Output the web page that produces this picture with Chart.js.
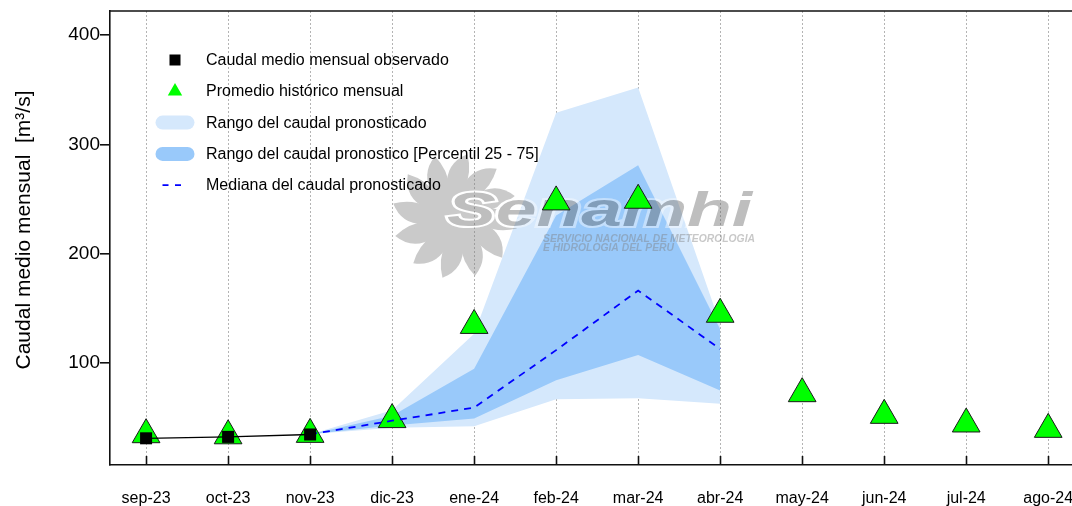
<!DOCTYPE html>
<html>
<head>
<meta charset="utf-8">
<script src="https://cdn.jsdelivr.net/npm/chart.js@4"></script>
<style>
  body { margin: 0; background: #fff; }
  #wrap { width: 1072px; height: 506px; }
</style>
</head>
<body>
<div id="wrap"><canvas id="caudalChart" width="1072" height="506"></canvas></div>
<script>
const months = ['sep-23', 'oct-23', 'nov-23', 'dic-23', 'ene-24', 'feb-24',
                'mar-24', 'abr-24', 'may-24', 'jun-24', 'jul-24', 'ago-24'];

// caudal observado (sep-23 .. nov-23)
const obsMonths = ['sep-23', 'oct-23', 'nov-23'];
const observado = [31.4, 32.7, 34.9];

// promedio historico, un valor por mes
const promedioHistorico = [34.7, 33.7, 35, 48.5, 134.6, 247.5, 249, 144.8, 72.2, 52.4, 44.5, 39.6];

// pronostico (nov-23 .. abr-24)
const pronoMonths = ['nov-23', 'dic-23', 'ene-24', 'feb-24', 'mar-24', 'abr-24'];
const rangoMax = [35, 57, 127, 329, 352, 136];
const rangoMin = [35, 41, 42.5, 67, 68, 63];
const p75 = [35, 52, 95, 235, 281, 131];
const p25 = [35, 43, 49.5, 84.4, 107.5, 75];
const mediana = [35, 47.5, 59.5, 112, 166.5, 113];

const yTicks = [100, 200, 300, 400];

const FONT = "'Liberation Sans', Arial, sans-serif";
Chart.defaults.font.family = FONT;

const pts = (labels, vals) => vals.map((v, i) => ({ x: months.indexOf(labels[i]), y: v }));

const LIGHT = '#d5e8fc';
const DARK = '#99c9fa';

function drawWatermark(chart) {
  const { ctx, chartArea: a } = chart;
  const off = document.createElement('canvas');
  off.width = chart.width;
  off.height = chart.height;
  const o = off.getContext('2d');

  // sol
  const cx = a.left + 345, cy = a.top + 205;
  o.fillStyle = 'rgb(128,128,128)';
  for (let k = 0; k < 12; k++) {
    const t = k * Math.PI / 6;
    const p = (r, ang) => [cx + r * Math.cos(ang), cy + r * Math.sin(ang)];
    const [x1, y1] = p(30, t - 0.27);
    const [x2, y2] = p(30, t + 0.32);
    const [xt, yt] = p(63, t + 0.2);
    const [c1x, c1y] = p(54, t - 0.18);
    const [c2x, c2y] = p(46, t + 0.38);
    o.beginPath();
    o.moveTo(x1, y1);
    o.quadraticCurveTo(c1x, c1y, xt, yt);
    o.quadraticCurveTo(c2x, c2y, x2, y2);
    o.closePath();
    o.fill();
  }
  o.beginPath();
  o.arc(cx, cy, 38, 0, Math.PI * 2);
  o.fill();

  // texto Senamhi
  o.font = 'italic bold 48px ' + FONT;
  const w = o.measureText('Senamhi').width;
  const sx = 305 / w;
  o.save();
  o.translate(a.left + 337, a.top + 215);
  o.scale(sx, 1);
  o.lineWidth = 4;
  o.strokeStyle = '#fff';
  o.strokeText('Senamhi', 0, 0);
  o.fillStyle = 'rgb(100,100,100)';
  o.fillText('Senamhi', 0, 0);
  o.restore();

  o.font = 'italic bold 11px ' + FONT;
  const l1 = 'SERVICIO NACIONAL DE METEOROLOGIA';
  const l2 = 'E HIDROLOGIA DEL PERU';
  const s2 = 212 / o.measureText(l1).width;
  o.fillStyle = 'rgb(125,125,125)';
  [[l1, 231], [l2, 240]].forEach(([txt, dy]) => {
    o.save();
    o.translate(a.left + 433, a.top + dy);
    o.scale(s2, 1);
    o.fillText(txt, 0, 0);
    o.restore();
  });

  ctx.save();
  ctx.globalAlpha = 0.42;
  ctx.drawImage(off, 0, 0);
  ctx.restore();
}

const decor = {
  id: 'decor',
  afterDatasetDraw(chart, args) {
    if (args.index === 5) drawWatermark(chart);
  },
  afterDraw(chart) {
    const { ctx, chartArea: a, scales: { x } } = chart;
    ctx.save();
    // marco superior
    ctx.strokeStyle = '#111';
    ctx.lineWidth = 1.6;
    ctx.beginPath();
    ctx.moveTo(a.left, a.top);
    ctx.lineTo(a.right, a.top);
    ctx.stroke();
    // ticks del eje x hacia adentro
    x.ticks.forEach(t => {
      const px = Math.round(x.getPixelForValue(t.value)) + 0.5;
      ctx.beginPath();
      ctx.moveTo(px, a.bottom);
      ctx.lineTo(px, a.bottom - 9);
      ctx.stroke();
    });

    // titulo eje y
    ctx.save();
    ctx.translate(24, 230);
    ctx.rotate(-Math.PI / 2);
    ctx.font = '21px ' + FONT;
    ctx.fillStyle = '#000';
    ctx.textAlign = 'center';
    ctx.textBaseline = 'middle';
    ctx.fillText('Caudal medio mensual  [m\u00B3/s]', 0, 0);
    ctx.restore();

    // leyenda
    const ds = chart.data.datasets;
    const items = [
      { text: ds[0].label, kind: 'rect', color: ds[0].backgroundColor },
      { text: ds[1].label, kind: 'tri', color: ds[1].backgroundColor },
      { text: ds[2].label, kind: 'band', color: ds[2].backgroundColor },
      { text: ds[4].label, kind: 'band', color: ds[4].backgroundColor },
      { text: ds[6].label, kind: 'dash', color: ds[6].borderColor }
    ];
    const mx = a.left + 65, tx = a.left + 96;
    ctx.font = '16px ' + FONT;
    ctx.textBaseline = 'middle';
    ctx.textAlign = 'left';
    items.forEach((it, i) => {
      const y = a.top + 49 + i * 31.3;
      ctx.fillStyle = it.color;
      if (it.kind === 'rect') {
        ctx.fillRect(mx - 5.5, y - 5.5, 11, 11);
      } else if (it.kind === 'tri') {
        const r = 8.3;
        ctx.beginPath();
        ctx.moveTo(mx, y - r);
        ctx.lineTo(mx + r * 0.866, y + r / 2);
        ctx.lineTo(mx - r * 0.866, y + r / 2);
        ctx.closePath();
        ctx.fill();
      } else if (it.kind === 'band') {
        ctx.beginPath();
        ctx.roundRect(mx - 19.5, y - 7, 39, 14, 7);
        ctx.fill();
      } else {
        ctx.strokeStyle = it.color;
        ctx.lineWidth = 1.8;
        ctx.setLineDash([6, 6.5]);
        ctx.beginPath();
        ctx.moveTo(mx - 12.5, y);
        ctx.lineTo(mx + 7, y);
        ctx.stroke();
        ctx.setLineDash([]);
      }
      ctx.fillStyle = '#000';
      ctx.fillText(it.text, tx, y + 0.5);
    });
    ctx.restore();
  }
};

new Chart(document.getElementById('caudalChart'), {
  type: 'line',
  data: {
    datasets: [
      {
        label: 'Caudal medio mensual observado',
        data: pts(obsMonths, observado),
        borderColor: '#000',
        borderWidth: 1.3,
        backgroundColor: '#000',
        pointStyle: 'rect',
        pointRadius: 8.5,
        pointBorderWidth: 0,
        order: 0
      },
      {
        label: 'Promedio histórico mensual',
        data: pts(months, promedioHistorico),
        showLine: false,
        backgroundColor: '#00ff00',
        borderColor: '#1a1a1a',
        pointStyle: 'triangle',
        pointRadius: 16,
        pointBorderWidth: 1,
        order: 2
      },
      {
        label: 'Rango del caudal pronosticado',
        data: pts(pronoMonths, rangoMax),
        backgroundColor: LIGHT,
        borderColor: 'rgba(0,0,0,0)',
        borderWidth: 0,
        pointRadius: 0,
        fill: '+1',
        order: 6
      },
      {
        label: 'min',
        data: pts(pronoMonths, rangoMin),
        borderColor: 'rgba(0,0,0,0)',
        borderWidth: 0,
        pointRadius: 0,
        fill: false,
        order: 5
      },
      {
        label: 'Rango del caudal pronostico [Percentil 25 - 75]',
        data: pts(pronoMonths, p75),
        backgroundColor: DARK,
        borderColor: 'rgba(0,0,0,0)',
        borderWidth: 0,
        pointRadius: 0,
        fill: '+1',
        order: 4
      },
      {
        label: 'p25',
        data: pts(pronoMonths, p25),
        borderColor: 'rgba(0,0,0,0)',
        borderWidth: 0,
        pointRadius: 0,
        fill: false,
        order: 3
      },
      {
        label: 'Mediana del caudal pronosticado',
        data: pts(pronoMonths, mediana),
        borderColor: '#0000ff',
        borderWidth: 1.8,
        borderDash: [7, 6],
        pointRadius: 0,
        fill: false,
        order: 1
      }
    ]
  },
  options: {
    responsive: false,
    animation: false,
    layout: { autoPadding: false, padding: { top: 11, right: 0, left: 0, bottom: 0 } },
    plugins: {
      legend: { display: false },
      tooltip: { enabled: false }
    },
    scales: {
      x: {
        type: 'linear',
        min: -0.44,
        max: 11.29,
        afterBuildTicks: s => { s.ticks = months.map((m, i) => ({ value: i })); },
        afterFit: s => { s.height = 41; s.paddingLeft = 0; s.paddingRight = 0; },
        ticks: {
          callback: v => months[v],
          font: { size: 16 },
          color: '#000',
          padding: 0,
          maxRotation: 0,
          autoSkip: false
        },
        grid: {
          color: '#b4b4b4',
          lineWidth: 1,
          drawTicks: true,
          tickLength: 24,
          tickColor: 'rgba(0,0,0,0)'
        },
        border: { color: '#111', width: 1.6, dash: [2, 2] }
      },
      y: {
        min: 7,
        max: 422,
        afterBuildTicks: s => { s.ticks = yTicks.map(v => ({ value: v })); },
        afterFit: s => { s.width = 110; s.paddingTop = 0; s.paddingBottom = 0; },
        ticks: { font: { size: 19 }, color: '#000', padding: 0 },
        grid: {
          drawOnChartArea: false,
          drawTicks: true,
          tickLength: 10,
          color: '#111',
          lineWidth: 1.6
        },
        border: { color: '#111', width: 1.6 }
      }
    }
  },
  plugins: [decor]
});
</script>
</body>
</html>
